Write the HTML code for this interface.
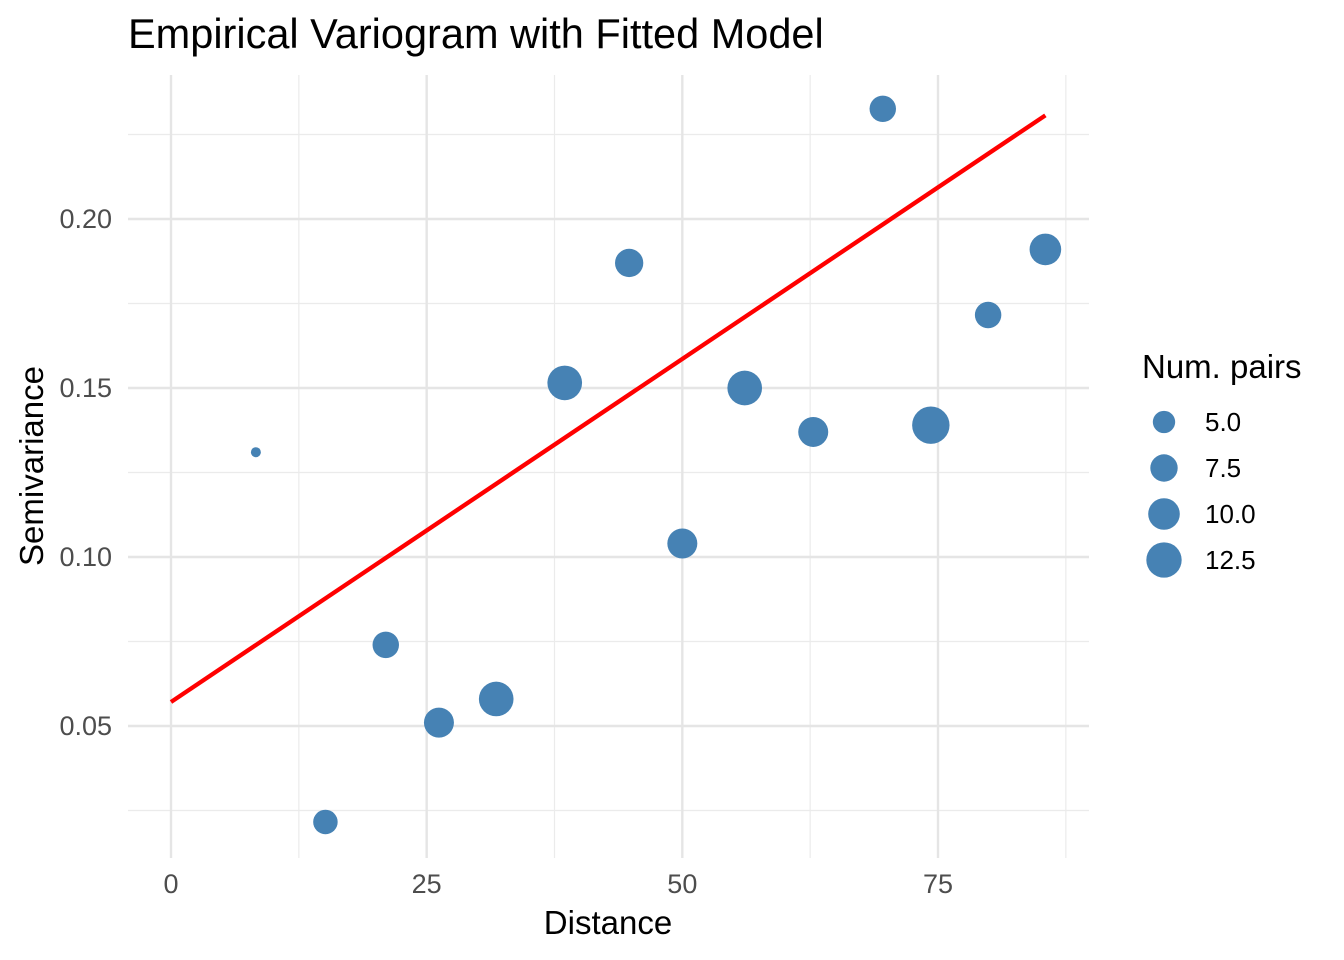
<!DOCTYPE html>
<html><head><meta charset="utf-8"><style>
body{margin:0;background:#fff;}
svg{display:block;font-family:"Liberation Sans",Arial,sans-serif;}
</style></head><body>
<svg id="chart" width="1344" height="960" xmlns="http://www.w3.org/2000/svg">
<g id="grid"></g><g id="line"></g><g id="pts"></g><g id="axes"></g><g id="legend"></g>
<text x="128" y="48" style="font-size:41.5px" fill="#000">Empirical Variogram with Fitted Model</text>
<text x="608" y="934" style="font-size:33px" text-anchor="middle" fill="#000">Distance</text>
<text transform="translate(43,466) rotate(-90)" style="font-size:33px" text-anchor="middle" fill="#000">Semivariance</text>
</svg>
<script>
const distances = [8.3,15.1,21.0,26.2,31.8,38.5,44.8,50.0,56.1,62.8,69.6,74.3,79.9,85.5];
const gammas = [0.131,0.0216,0.074,0.051,0.058,0.1515,0.187,0.104,0.150,0.137,0.2326,0.139,0.1716,0.191];
const npairs = [1,6,7,9,12,12,8,9,12,9,7,14,7,10];
const xTicks = [0,25,50,75];
const yTicks = [0.05,0.10,0.15,0.20];
const yTickLabels = ["0.05","0.10","0.15","0.20"];
const legendValues = [5.0,7.5,10.0,12.5];
const legendLabels = ["5.0","7.5","10.0","12.5"];
const nugget = 0.0571, slope = 0.00203, fitMaxX = 85.5;

const L=128,R=1089,T=75,B=858;
const X=v=>171+(v-0)*(938-171)/75;
function Yf(v){return 219+(0.20-v)*3380;}
const rad=n=>5*Math.sqrt(n);
const NS="http://www.w3.org/2000/svg";
function mk(tag,attrs,parent){const e=document.createElementNS(NS,tag);for(const k in attrs)e.setAttribute(k,attrs[k]);parent.appendChild(e);return e;}
const grid=document.getElementById('grid');
[12.5,37.5,62.5,87.5].forEach(v=>{const l=mk('line',{x1:X(v),x2:X(v),y1:T,y2:B,stroke:'#ebebeb','stroke-width':1.2},grid);

});
[0.025,0.075,0.125,0.175,0.225].forEach(v=>{const l=mk('line',{x1:L,x2:R,y1:Yf(v),y2:Yf(v),stroke:'#ebebeb','stroke-width':1.2},grid);

});
xTicks.forEach(v=>{const l=mk('line',{x1:X(v),x2:X(v),y1:T,y2:B,stroke:'#e5e5e5','stroke-width':2.4},grid);


const t=mk('text',{x:X(v),y:893,style:'font-size:27px','text-anchor':'middle',fill:'#4d4d4d'},document.getElementById('axes'));t.textContent=v;

});
yTicks.forEach((v,i)=>{const l=mk('line',{x1:L,x2:R,y1:Yf(v),y2:Yf(v),stroke:'#e5e5e5','stroke-width':2.4},grid);


const t=mk('text',{x:112,y:Yf(v)+9,style:'font-size:27px','text-anchor':'end',fill:'#4d4d4d'},document.getElementById('axes'));t.textContent=yTickLabels[i];

});
const fl=mk('line',{x1:X(0),y1:Yf(nugget),x2:X(fitMaxX),y2:Yf(nugget+slope*fitMaxX),stroke:'#ff0000','stroke-width':4.3},document.getElementById('line'));


distances.forEach((d,i)=>{const c=mk('circle',{cx:X(d),cy:Yf(gammas[i]),r:rad(npairs[i]),fill:'#4682b4'},document.getElementById('pts'));

});
const lg=document.getElementById('legend');
const lt=mk('text',{x:1142,y:378,style:'font-size:33px',fill:'#000'},lg);lt.textContent='Num. pairs';


legendValues.forEach((v,i)=>{const cy=422+i*46;
const c=mk('circle',{cx:1164,cy:cy,r:rad(v),fill:'#4682b4'},lg);


const t=mk('text',{x:1205,y:cy+9,style:'font-size:26px',fill:'#000'},lg);t.textContent=legendLabels[i];

});
</script>
</body></html>
